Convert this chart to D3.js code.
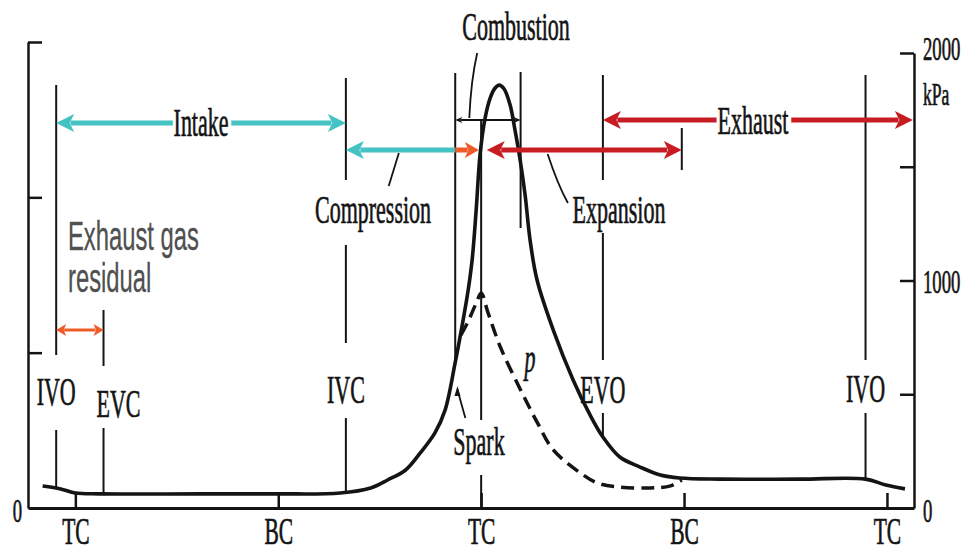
<!DOCTYPE html>
<html>
<head>
<meta charset="utf-8">
<script src="https://cdn.jsdelivr.net/npm/d3@7"></script>
<style>
  body { margin: 0; background: #fff; }
  svg { display: block; }
</style>
</head>
<body>
<svg id="chart" width="973" height="553"></svg>
<script>
// Cylinder pressure over one four-stroke cycle.
// Crank angle in degrees, 0 = firing top centre; pressure in kPa.
const firedAngle = [-389, -373, -360, -338, -249, -180, -125, -98, -83, -67, -54, -41, -32, -23, -16, -11.5, -8, -4.4, -1, 3.5, 8, 12.4, 16, 20.4, 25.7, 30, 34.6, 39, 43.4, 49.6, 64, 81.6, 96.6, 108, 123, 141, 159, 176, 212, 283, 341, 359, 376];
const firedPressure = [97, 84, 66, 62, 62, 62, 66, 88, 123, 167, 242, 330, 430, 640, 826, 958, 1090, 1310, 1552, 1714, 1802, 1846, 1859, 1842, 1771, 1662, 1530, 1376, 1178, 1002, 782, 563, 409, 312, 224, 180, 145, 132, 127, 127, 127, 101, 84];

// Motored (no combustion) trace, drawn dashed
const motoredAngle = [-18, -12, -8, -4, 0, 6, 17, 35, 50, 64, 88, 103, 123, 150, 168, 178];
const motoredPressure = [760, 815, 860, 905, 945, 860, 708, 519, 374, 255, 154, 110, 92, 88, 97, 123];

// Axis ticks
const crankTicks = [-360, -180, 0, 180, 360];
const crankTickLabels = ["TC", "BC", "TC", "BC", "TC"];
const pressureTicks = [0, 500, 1000, 1500, 2000];
const pressureTickLabels = ["0", "", "1000", "", "2000"];
const leftTicks = [0, 1, 2, 3];

// Valve events (deg)
const eventNames = ["IVO", "EVC", "IVC", "EVO", "IVO"];
const eventAngles = [-377, -335, -120, 108, 341];
const combustionStart = -23;
const combustionEnd = 35;
const sparkAngle = -21;

// Cycle phases (deg)
const phaseNames = ["Intake", "Compression", "", "Expansion", "Exhaust", "Combustion"];
const phaseStart = [-377, -120, -23, 5, 108, -23];
const phaseEnd = [-120, -23, -2, 178, 383, 35];

const svg = d3.select("#chart");

const x = d3.scaleLinear().domain([-402, 384]).range([28, 914]);
const y = d3.scaleLinear().domain([0, 2000]).range([508, 53]);
const yLeft = d3.scaleLinear().domain([0, 3]).range([508, 42]);

const SERIF = "'Liberation Serif', 'Times New Roman', serif";
const SANS = "'Liberation Sans', Arial, sans-serif";
const INK = "#141414";
const TEAL = "#45c2c4";
const RED = "#c71c22";
const ORANGE = "#ef5a28";

function label(g, px, py, str, o = {}) {
  const size = o.size || 40, sx = o.sx || 0.55;
  const t = g.append("text")
    .attr("transform", `translate(${px},${py}) scale(${sx},1)`)
    .attr("text-anchor", o.anchor || "middle")
    .style("font-family", o.family || SERIF)
    .style("font-size", size + "px")
    .style("font-style", o.italic ? "italic" : "normal")
    .attr("fill", o.fill || INK)
    .text(str);
  if (o.halo) {
    t.attr("stroke", "#fff").attr("stroke-width", 12).attr("fill", "#fff");
  } else {
    t.attr("stroke", o.fill || INK).attr("stroke-width", o.sw == null ? 0.7 : o.sw);
  }
  return t;
}

// ---- axes ----
const axisG = svg.append("g");

const bottom = axisG.append("g")
  .attr("transform", "translate(0,508)")
  .call(d3.axisBottom(x).tickValues(crankTicks).tickSize(-15).tickSizeOuter(0)
    .tickFormat((d, i) => crankTickLabels[i]));
bottom.select(".domain").attr("stroke", INK).attr("stroke-width", 3);
bottom.selectAll(".tick line").attr("stroke", INK).attr("stroke-width", 2.5);
bottom.selectAll(".tick text")
  .attr("y", 36).attr("dy", null)
  .attr("transform", "scale(0.58,1)")
  .style("font-family", SERIF).style("font-size", "37px")
  .attr("fill", INK).attr("stroke", INK).attr("stroke-width", 0.7);

const right = axisG.append("g")
  .attr("transform", "translate(914,0)")
  .call(d3.axisRight(y).tickValues(pressureTicks).tickSize(-14).tickSizeOuter(0)
    .tickFormat((d, i) => pressureTickLabels[i]));
right.select(".domain").attr("stroke", INK).attr("stroke-width", 2.5);
right.selectAll(".tick line").attr("stroke", INK).attr("stroke-width", 2.5);
right.selectAll(".tick text")
  .attr("x", 0).attr("dy", "0.35em")
  .attr("transform", "translate(9,0) scale(0.55,1)")
  .attr("text-anchor", "start")
  .style("font-family", SERIF).style("font-size", "34px")
  .attr("fill", INK).attr("stroke", INK).attr("stroke-width", 0.7);
right.selectAll(".tick").filter(d => d === 2000).select("text").attr("dy", "0.2em");
right.selectAll(".tick").filter(d => d === 0).select("text").attr("dy", "0.4em");
right.selectAll(".tick").filter(d => d === 0).select("line").remove();
label(axisG, 923, 105, "kPa", { size: 32, anchor: "start" });

const left = axisG.append("g")
  .attr("transform", "translate(28,0)")
  .call(d3.axisLeft(yLeft).tickValues(leftTicks).tickSize(-14).tickSizeOuter(0)
    .tickFormat(d => d === 0 ? "0" : ""));
left.select(".domain").attr("stroke", INK).attr("stroke-width", 2.5);
left.selectAll(".tick line").attr("stroke", INK).attr("stroke-width", 2.5);
left.selectAll(".tick").filter(d => d === 0).select("line").remove();
left.selectAll(".tick text")
  .attr("x", 0).attr("dy", "0.4em")
  .attr("transform", "translate(-6,0) scale(0.55,1)")
  .attr("text-anchor", "end")
  .style("font-family", SERIF).style("font-size", "34px")
  .attr("fill", INK).attr("stroke", INK).attr("stroke-width", 0.7);

// ---- event marker lines (broken where labels sit) ----
const markG = svg.append("g").attr("stroke", INK).attr("stroke-width", 2).attr("fill", "none");
function vseg(angle, segs) {
  segs.forEach(s => markG.append("line")
    .attr("x1", x(angle)).attr("x2", x(angle)).attr("y1", s[0]).attr("y2", s[1]));
}
vseg(eventAngles[0], [[85, 355], [430, 487]]);
vseg(eventAngles[1], [[310, 366], [428, 493]]);
vseg(eventAngles[2], [[78, 180], [245, 343], [418, 492]]);
vseg(eventAngles[3], [[75, 180], [233, 360], [413, 437]]);
vseg(eventAngles[4], [[75, 360], [413, 478]]);
vseg(combustionStart, [[73, 362]]);
vseg(combustionEnd, [[72, 228]]);
vseg(0, [[120, 420], [475, 508]]);
vseg(178, [[128, 170]]);

// ---- pressure traces ----
const line = d3.line().x(d => x(d[0])).y(d => y(d[1])).curve(d3.curveCatmullRom.alpha(0.5));
svg.append("path")
  .datum(motoredAngle.map((a, i) => [a, motoredPressure[i]]))
  .attr("d", line).attr("fill", "none").attr("stroke", INK)
  .attr("stroke-width", 3.5).attr("stroke-dasharray", "13,7");
svg.append("path")
  .datum(firedAngle.map((a, i) => [a, firedPressure[i]]))
  .attr("d", line).attr("fill", "none").attr("stroke", INK).attr("stroke-width", 3.6)
  .attr("stroke-linejoin", "round");

// ---- phase arrows ----
const arrG = svg.append("g");
function arrow(x1, x2, yy, color, w, hl, hw, startHead, endHead) {
  const a = x1 + (startHead ? hl * 0.8 : 0), b = x2 - (endHead ? hl * 0.8 : 0);
  arrG.append("line").attr("x1", a).attr("x2", b).attr("y1", yy).attr("y2", yy)
    .attr("stroke", color).attr("stroke-width", w);
  if (startHead) arrG.append("path")
    .attr("d", `M${x1},${yy}L${x1 + hl},${yy - hw}L${x1 + hl * 0.75},${yy}L${x1 + hl},${yy + hw}Z`)
    .attr("fill", color);
  if (endHead) arrG.append("path")
    .attr("d", `M${x2},${yy}L${x2 - hl},${yy - hw}L${x2 - hl * 0.75},${yy}L${x2 - hl},${yy + hw}Z`)
    .attr("fill", color);
}
// Intake
arrow(x(phaseStart[0]), x(phaseEnd[0]), 123, TEAL, 5, 18, 9, true, true);
// Compression
arrow(x(phaseStart[1]), x(phaseEnd[1]), 150, TEAL, 5, 18, 9, true, false);
// Spark to TC
arrow(x(phaseStart[2]), x(phaseEnd[2]), 150, ORANGE, 5, 14, 8, false, true);
// Expansion
arrow(x(phaseStart[3]), x(phaseEnd[3]), 150, RED, 5, 18, 9, true, true);
// Exhaust
arrow(x(phaseStart[4]), x(phaseEnd[4]), 120, RED, 5, 18, 9, true, true);
// Combustion span
arrow(x(phaseStart[5]), x(phaseEnd[5]), 120, INK, 2, 7, 3, true, true);
// Exhaust gas residual (IVO to EVC)
arrow(x(eventAngles[0]), x(eventAngles[1]), 330, ORANGE, 3, 10, 6, true, true);

// ---- labels (on top of arrows) ----
const labG = svg.append("g");
const evLabelY = [405, 417, 403, 403, 402];
eventNames.forEach((n, i) => label(labG, x(eventAngles[i]) + (i === 1 ? 15 : 0), evLabelY[i], n));

const intakeX = (x(phaseStart[0]) + x(phaseEnd[0])) / 2;
label(labG, intakeX, 136, phaseNames[0], { halo: true });
label(labG, intakeX, 136, phaseNames[0]);
const exhaustX = 753;
label(labG, exhaustX, 134, phaseNames[4], { halo: true });
label(labG, exhaustX, 134, phaseNames[4]);
label(labG, 373, 223, phaseNames[1]);
label(labG, 619, 223, phaseNames[3]);
label(labG, 516, 40, phaseNames[5]);
label(labG, 479, 455, "Spark");
label(labG, 530, 372, "p", { italic: true });

label(labG, 68, 250, "Exhaust gas", { family: SANS, size: 41, sx: 0.58, anchor: "start", fill: "#505050", sw: 0.3 });
label(labG, 68, 292, "residual", { family: SANS, size: 41, sx: 0.58, anchor: "start", fill: "#505050", sw: 0.3 });

// leader lines
const leadG = svg.append("g").attr("stroke", INK).attr("stroke-width", 1.8).attr("fill", "none");
leadG.append("path").attr("d", `M${x(-3.5)},53 Q${x(-9)},80 ${x(-10.5)},118`);
leadG.append("path").attr("d", `M${x(-73)},153 L${x(-82)},186`);
leadG.append("path").attr("d", `M${x(59)},154 Q${x(68)},185 ${x(77)},203`);
leadG.append("path").attr("d", `M${x(-14)},418 L${x(sparkAngle)},390`);
svg.append("path")
  .attr("d", `M${x(sparkAngle)},386 l-3,10 l6,0 Z`)
  .attr("fill", INK);
</script>
</body>
</html>
